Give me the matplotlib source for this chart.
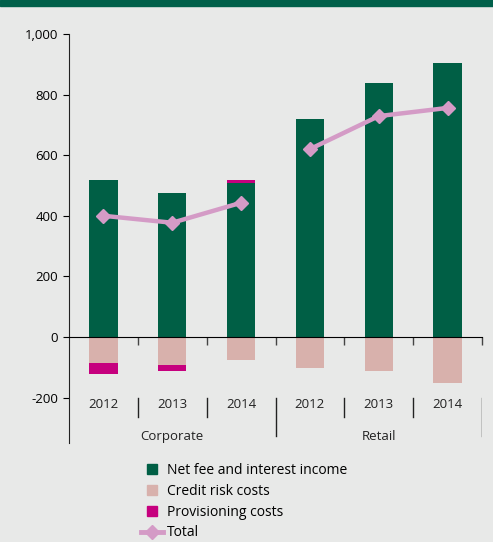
import matplotlib.pyplot as plt
from matplotlib.lines import Line2D
from matplotlib.patches import Rectangle
import numpy as np

plt.rcParams['font.family'] = ['Open Sans', 'DejaVu Sans']

groups = ["Corporate", "Retail"]
years = ["2012", "2013", "2014", "2012", "2013", "2014"]
net_income = [518, 475, 507, 719, 838, 904]
credit_risk = [-86, -92, -76, -102, -112, -152]
provisioning = [-36, -20, 11, 0, 0, 0]
total = [400, 377, 443, 620, 729, 756]

green = '#005f45'
pink = '#d8b1ac'
magenta = '#c6007e'
lilac = '#d49bc6'
bg = '#e8e9e8'

fig = plt.figure(figsize=(4.93, 5.42), dpi=100, facecolor=bg)
fig.patches.append(Rectangle((0, 1 - 6 / 542), 1, 6 / 542, transform=fig.transFigure,
                             color='#00604a', zorder=0))
ax = fig.add_axes([69 / 493, 1 - 443 / 542, (482 - 69) / 493, 409 / 542])
ax.set_facecolor(bg)

x = np.arange(len(years))
w = 0.41
prov = np.array(provisioning)
ax.bar(x, net_income, w, color=green, zorder=2)
ax.bar(x, credit_risk, w, color=pink, zorder=2)
# negative provisioning stacks under credit risk, positive on top of net income
prov_bottom = np.where(prov < 0, credit_risk, net_income)
ax.bar(x, prov, w, bottom=prov_bottom, color=magenta, zorder=2)
# total line drawn per segment (no link between Corporate and Retail)
ax.plot(x[:3], total[:3], color=lilac, lw=3.2, marker='D', markersize=7.5, zorder=3)
ax.plot(x[3:], total[3:], color=lilac, lw=3.2, marker='D', markersize=7.5, zorder=3)

ax.set_xlim(-0.5, 5.5)
ax.set_ylim(-350, 1000)
ax.set_yticks([-200, 0, 200, 400, 600, 800, 1000])
ax.set_yticklabels(['-200', '0', '200', '400', '600', '800', '1,000'], fontsize=9.5)
ax.tick_params(axis='y', direction='out', length=4, width=0.8, pad=4)

for s in ['top', 'right']:
    ax.spines[s].set_visible(False)
ax.spines['bottom'].set_position(('data', 0))
ax.spines['bottom'].set_zorder(4)
ax.spines['left'].set_color('#222222')
ax.set_xticks(np.arange(0.5, 6, 1))
ax.set_xticklabels([])
ax.tick_params(axis='x', direction='out', length=6, width=1, color='#444444')

for i, yr in enumerate(years):
    ax.text(i, -222, yr, ha='center', va='center', fontsize=9.5, color='#222222')
for xs in [0.5, 1.5, 3.5, 4.5]:
    ax.plot([xs, xs], [-200, -264], color='#222222', lw=1)
for xs in [2.5, 5.5]:
    ax.plot([xs, xs], [-200, -327], color='#222222', lw=1)
ax.text(1, -330, groups[0], ha='center', va='center', fontsize=9.5, color='#222222')
ax.text(4, -330, groups[1], ha='center', va='center', fontsize=9.5, color='#222222')

handles = [
    Line2D([], [], ls='', marker='s', markersize=7, color=green),
    Line2D([], [], ls='', marker='s', markersize=7, color=pink),
    Line2D([], [], ls='', marker='s', markersize=7, color=magenta),
    Line2D([], [], color=lilac, lw=3.5, marker='D', markersize=7),
]
labels = ["Net fee and interest income", "Credit risk costs", "Provisioning costs", "Total"]
fig.legend(handles, labels, loc='upper left', bbox_to_anchor=(134 / 493, 1 - 456 / 542),
           frameon=False, fontsize=10, handlelength=1.6, handletextpad=0.3,
           labelspacing=0.42, borderpad=0)

fig.savefig('out.png', dpi=100, facecolor=bg)
